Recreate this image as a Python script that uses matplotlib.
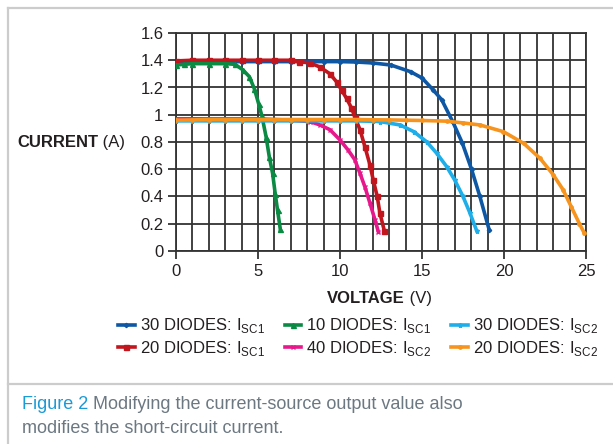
import matplotlib
matplotlib.use('Agg')
import matplotlib.pyplot as plt
from matplotlib.lines import Line2D

plt.rcParams['font.family'] = ['Liberation Sans', 'DejaVu Sans']
plt.rcParams['mathtext.fontset'] = 'custom'
plt.rcParams['mathtext.rm'] = 'Liberation Sans'

# ---- data ----
blue30_v = [0, 1, 2, 3, 4, 5, 6, 7, 8, 9, 10, 11, 12, 13.1, 14.3, 15.0, 15.7, 16.2, 16.87, 17.45, 18.02, 18.53, 19.1]
blue30_i = [1.385, 1.39, 1.39, 1.39, 1.39, 1.39, 1.39, 1.39, 1.39, 1.39, 1.39, 1.387, 1.38, 1.365, 1.316, 1.27, 1.18, 1.11, 0.95, 0.795, 0.60, 0.40, 0.154]

red20_v = [0, 1, 2, 3, 4, 5, 6, 7, 7.5, 8.17, 8.78, 9.39, 9.8, 10.1, 10.4, 10.7, 10.9, 11.22, 11.52, 11.83, 12.03, 12.27, 12.43, 12.7]
red20_i = [1.395, 1.40, 1.40, 1.40, 1.40, 1.40, 1.40, 1.40, 1.39, 1.38, 1.35, 1.30, 1.24, 1.18, 1.12, 1.05, 0.985, 0.89, 0.765, 0.63, 0.52, 0.40, 0.28, 0.15]

green10_v = [0, 0.5, 1, 2, 3, 3.6, 4.07, 4.47, 4.78, 5.04, 5.24, 5.49, 5.69, 5.89, 6.05, 6.19, 6.36]
green10_i = [1.365, 1.37, 1.375, 1.375, 1.375, 1.37, 1.33, 1.28, 1.19, 1.08, 0.99, 0.84, 0.69, 0.57, 0.42, 0.30, 0.16]

mag40_v = [0, 1, 2, 3, 4, 5, 6, 7, 8.17, 8.78, 9.39, 10.0, 10.5, 10.9, 11.22, 11.52, 11.83, 12.13, 12.34]
mag40_i = [0.97, 0.97, 0.97, 0.97, 0.97, 0.97, 0.965, 0.96, 0.95, 0.925, 0.89, 0.815, 0.74, 0.67, 0.57, 0.47, 0.35, 0.23, 0.14]

lblue30_v = [0, 1, 2, 3, 4, 5, 6, 7, 8, 9, 10, 11, 12, 12.44, 13.66, 14.5, 15.3, 15.9, 16.5, 17.0, 17.5, 17.93, 18.33]
lblue30_i = [0.955, 0.955, 0.955, 0.955, 0.955, 0.955, 0.955, 0.955, 0.955, 0.955, 0.955, 0.955, 0.952, 0.95, 0.925, 0.876, 0.80, 0.717, 0.62, 0.52, 0.40, 0.277, 0.15]

orange20_v = [0, 1, 2, 3, 4, 5, 6, 7, 8, 9, 10, 11, 12, 13, 14, 15, 16.5, 17.5, 18.54, 19.96, 21.2, 22.2, 23.0, 23.6, 24.1, 24.6, 24.9]
orange20_i = [0.96, 0.962, 0.965, 0.965, 0.965, 0.965, 0.965, 0.965, 0.965, 0.965, 0.965, 0.965, 0.963, 0.962, 0.96, 0.958, 0.953, 0.94, 0.925, 0.876, 0.79, 0.68, 0.56, 0.45, 0.325, 0.20, 0.13]

x_ticks = [0, 5, 10, 15, 20, 25]
y_ticks = [0, 0.2, 0.4, 0.6, 0.8, 1.0, 1.2, 1.4, 1.6]
y_tick_labels = ['0', '0.2', '0.4', '0.6', '0.8', '1', '1.2', '1.4', '1.6']

series = [
    (blue30_v, blue30_i, '#0d57a4', 'D', 2.2, '30 DIODES: I$_\\mathregular{SC1}$'),
    (red20_v, red20_i, '#c1161e', 's', 3.6, '20 DIODES: I$_\\mathregular{SC1}$'),
    (green10_v, green10_i, '#0a8a43', '^', 3.6, '10 DIODES: I$_\\mathregular{SC1}$'),
    (mag40_v, mag40_i, '#e7178c', 'x', 3.0, '40 DIODES: I$_\\mathregular{SC2}$'),
    (lblue30_v, lblue30_i, '#1eaee9', '*', 3.6, '30 DIODES: I$_\\mathregular{SC2}$'),
    (orange20_v, orange20_i, '#f7941e', 'o', 2.4, '20 DIODES: I$_\\mathregular{SC2}$'),
]

W, H = 613, 444
fig = plt.figure(figsize=(W / 100, H / 100), dpi=100)
ax = fig.add_axes([176 / W, 1 - 251 / H, 410 / W, 218 / H])

grid_c = '#333333'
handles = []
for v, i, c, m, ms, lab in series:
    ln, = ax.plot(v, i, color=c, lw=2.6, marker=m, ms=ms, mew=1.0, zorder=3, label=lab)
    handles.append(ln)

ax.set_xlim(0, 25)
ax.set_ylim(0, 1.6)
ax.set_xticks(x_ticks)
ax.set_xticks(range(0, 26), minor=True)
ax.set_yticks(y_ticks)
ax.set_yticklabels(y_tick_labels)
ax.grid(True, which='both', axis='x', color=grid_c, lw=1.3)
ax.grid(True, which='major', axis='y', color=grid_c, lw=1.3)
ax.set_axisbelow(True)
for s in ax.spines.values():
    s.set_color(grid_c)
    s.set_linewidth(1.3)
ax.tick_params(axis='both', which='major', length=6, width=1.3, color=grid_c,
               labelsize=12, labelcolor='#231f20', pad=3)
ax.tick_params(axis='x', which='minor', length=0)

# frame lines
lc = '#cccccc'
fig.add_artist(Line2D([8 / W, 1], [1 - 8 / H, 1 - 8 / H], transform=fig.transFigure, color=lc, lw=1.6))
fig.add_artist(Line2D([8 / W, 8 / W], [0, 1 - 8 / H], transform=fig.transFigure, color=lc, lw=1.6))
fig.add_artist(Line2D([8 / W, 1], [1 - 384 / H, 1 - 384 / H], transform=fig.transFigure, color=lc, lw=1.6))

renderer = fig.canvas.get_renderer()


def two_part(x_px, y_px, parts, size):
    x = x_px
    for txt, weight, color in parts:
        t = fig.text(x / W, 1 - y_px / H, txt, fontsize=size, fontweight=weight,
                     color=color, ha='left', va='center')
        bb = t.get_window_extent(renderer=renderer)
        x = bb.x1
    return x

two_part(17, 142, [('CURRENT', 'bold', '#231f20'), (' (A)', 'normal', '#231f20')], 12)
two_part(327, 298, [('VOLTAGE', 'bold', '#231f20'), (' (V)', 'normal', '#231f20')], 12)

two_part(22, 404, [('Figure 2', 'normal', '#1a9ad6'),
                   (' Modifying the current-source output value also', 'normal', '#6b7882')], 13)
two_part(22, 428, [('modifies the short-circuit current.', 'normal', '#6b7882')], 13)

leg = fig.legend(handles=handles, ncol=3, loc='center', bbox_to_anchor=(358 / W, 1 - 337 / H),
                 frameon=False, fontsize=12, handlelength=1.0, handletextpad=0.3,
                 columnspacing=1.2, labelspacing=0.2, borderpad=0)
for t in leg.get_texts():
    t.set_color('#231f20')

fig.savefig('out.png', dpi=100)
